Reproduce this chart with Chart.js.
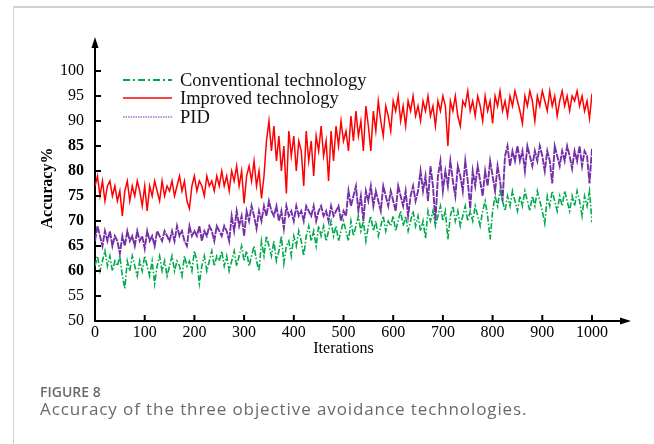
<!DOCTYPE html>
<html>
<head>
<meta charset="utf-8">
<script src="https://cdn.jsdelivr.net/npm/chart.js@4.4.0/dist/chart.umd.min.js"></script>
<style>
  body { margin: 0; background: #fff; }
  #wrap { position: relative; width: 654px; height: 444px; overflow: hidden; }
  #frame { position: absolute; left: 13px; top: 6px; width: 660px; height: 460px;
           border-left: 1px solid #d2d2d2; border-top: 2px solid #d2d2d2; }
  canvas { position: absolute; left: 0; top: 0; }
  .fig { position: absolute; left: 40px; top: 382px; font: 600 14px 'Open Sans', sans-serif; color: #6a6a6a; }
  .cap { position: absolute; left: 40px; top: 397px; font: 17px 'Open Sans', sans-serif; color: #6a6a6a; letter-spacing: 0.9px; }
</style>
</head>
<body>
<div id="wrap">
  <div id="frame"></div>
  <canvas id="accChart" width="654" height="444"></canvas>
  <div class="fig">FIGURE 8</div>
  <div class="cap">Accuracy of the three objective avoidance technologies.</div>
</div>
<script>
const ctx = document.getElementById('accChart');

// one sample every 5 iterations, 0..1000
const step = 5;
const iterations = Array.from({ length: 201 }, (_, i) => i * step);

const improved = [
  77, 79, 75, 78, 74, 77, 78, 75, 77, 74, 76,
  71, 76, 78, 74, 77, 75, 78, 76, 73, 77,
  72, 77, 75, 78, 76, 74, 78, 75, 77, 76,
  78, 75, 77, 79, 76, 78, 74, 72.5, 77, 79,
  76, 78, 77, 75, 79, 77, 78, 76, 79, 77,
  80, 77, 79, 76, 80, 78, 81, 77, 80, 73.5,
  79, 81, 78, 82, 77, 80, 74.5, 79, 86, 90,
  84, 89, 82, 87, 80, 85, 75.5, 88, 83, 87,
  80, 86, 84, 77, 88, 82, 86, 79, 87, 84,
  89, 83, 86, 78, 88, 82, 89, 85, 90, 86,
  88, 84, 91, 86, 92, 87, 90, 84, 93, 89,
  84, 92, 88, 94, 90, 87, 93, 91, 88, 94,
  92, 95, 90, 93, 89, 94, 92, 95, 91, 93,
  90, 94, 92, 95, 91, 93, 89, 94, 92, 95,
  93, 85, 94, 92, 95, 91, 89, 94, 93, 96,
  92, 94, 91, 95, 93, 90, 95, 92, 94, 89.5,
  95, 93, 96, 92, 94, 91, 95, 93, 96, 94,
  92, 89.5, 95, 93, 96, 94, 90, 95, 93, 96,
  94, 92, 96, 93, 95, 91, 94, 96, 93, 95,
  92, 95, 94, 96, 93, 95, 92, 94, 90.5, 95.5
];

const pid = [
  66, 69, 67, 65, 68, 66, 68, 65, 67, 66, 63.5,
  67, 65, 68, 66, 67, 65, 68, 66, 67, 64.5,
  68, 66, 67, 65, 68, 67, 66, 68, 67, 66,
  68, 66, 69, 67, 68, 66, 65, 69, 67, 68,
  67, 69, 66, 68, 67, 69, 68, 66, 69, 68,
  67, 69, 68, 66, 71, 68, 72, 69, 71, 67,
  72, 70, 73, 71, 68.5, 72, 70, 73, 71, 74,
  72, 71, 73, 70, 72, 68.5, 73, 71, 72, 70,
  73, 71, 72, 70, 73, 72, 71, 73, 70, 72,
  73, 71, 72, 70, 73, 71, 72, 73, 70, 72,
  71, 76, 73, 75, 77, 72, 75, 70, 76, 74,
  77, 73, 76, 74, 72, 77, 75, 73, 76, 74,
  72, 77, 75, 73, 76, 71, 75, 77, 74, 76,
  80, 76, 79, 74, 81, 77, 70, 79, 82, 76,
  80, 77, 82, 78, 75, 81, 79, 76, 82, 78,
  72.5, 80, 77, 81, 78, 75, 80, 77, 82, 79,
  76, 81, 78, 74, 83, 85, 81, 84, 82, 85,
  82, 84, 80, 85, 83, 81, 84, 82, 85, 83,
  80, 84, 82, 77.5, 85, 83, 81, 84, 82, 85,
  83, 80.5, 84, 82, 85, 81, 84, 83, 77.5, 84.5
];

const conventional = [
  61, 63, 60, 62, 64, 61, 63, 60, 62, 61, 63,
  59, 56.5, 62, 60, 63, 61, 59, 62, 60, 63,
  61, 59, 62, 57.5, 61, 63, 60, 62, 59, 61,
  63, 60, 62, 61, 59, 63, 61, 62, 60, 64,
  62, 57.5, 61, 63, 60, 62, 64, 61, 63, 62,
  64, 61, 63, 60, 62, 64, 61, 63, 65, 62,
  64, 61, 63, 65, 62, 60, 66, 63, 67, 65,
  63, 66, 62, 64, 67, 61.5, 65, 66, 63, 67,
  65, 68, 66, 63, 67, 69, 66, 68, 65, 69,
  67, 69, 66, 68, 70, 67, 69, 66, 68, 70,
  68, 66, 70, 67, 69, 71, 68, 70, 66, 69,
  71, 68, 70, 67, 69, 71, 68, 70, 69, 71,
  68, 70, 72, 69, 71, 68, 70, 72, 69, 71,
  68, 70, 66.5, 72, 70, 72, 69, 71, 73, 70,
  72, 66.3, 71, 73, 70, 72, 69, 71, 73, 70,
  72, 70, 73, 71, 69, 72, 74, 71, 66.3, 72,
  75, 73, 76, 74, 72, 75, 73, 76, 74, 72,
  75, 73, 76, 74, 72, 75, 73, 76, 74, 72,
  69.5, 75, 73, 76, 74, 72, 75, 73, 76, 74,
  72, 75, 73, 76, 74, 71, 75, 73, 76, 69.7
];

const seriesNames = ['Conventional technology', 'Improved technology', 'PID'];
const xTicks = [0, 1000, 100];   // min, max, step
const yTicks = [50, 100, 5];

const serif = "'Liberation Serif', 'Times New Roman', serif";

function pts(values) {
  return values.map((v, i) => ({ x: iterations[i], y: v }));
}

// axis arrows, inward tick marks and the legend inside the plot
const extras = {
  id: 'extras',
  afterDraw(chart) {
    const { ctx, chartArea: a, scales: { x, y } } = chart;
    ctx.save();
    ctx.strokeStyle = '#000';
    ctx.fillStyle = '#000';
    ctx.lineWidth = 2;
    ctx.beginPath();
    ctx.moveTo(a.left, a.top);
    ctx.lineTo(a.left, 46);
    ctx.moveTo(a.right, a.bottom);
    ctx.lineTo(622, a.bottom);
    x.ticks.forEach((t) => {
      if (t.value === 0) return;
      const px = x.getPixelForValue(t.value);
      ctx.moveTo(px, a.bottom);
      ctx.lineTo(px, a.bottom - 6);
    });
    y.ticks.forEach((t) => {
      if (t.value === 50) return;
      const py = y.getPixelForValue(t.value);
      ctx.moveTo(a.left, py);
      ctx.lineTo(a.left + 6, py);
    });
    ctx.stroke();

    ctx.beginPath();
    ctx.moveTo(a.left, 37);
    ctx.lineTo(a.left - 3.5, 48);
    ctx.lineTo(a.left + 3.5, 48);
    ctx.fill();
    ctx.beginPath();
    ctx.moveTo(631, a.bottom);
    ctx.lineTo(620, a.bottom - 3.5);
    ctx.lineTo(620, a.bottom + 3.5);
    ctx.fill();

    // legend
    const rows = [80, 98, 117];
    ctx.font = '18.5px ' + serif;
    ctx.textBaseline = 'middle';
    chart.data.datasets.forEach((ds, i) => {
      ctx.beginPath();
      ctx.strokeStyle = ds.borderColor;
      ctx.lineWidth = ds.legendWidth;
      ctx.setLineDash(ds.legendDash || []);
      ctx.moveTo(123, rows[i]);
      ctx.lineTo(172, rows[i]);
      ctx.stroke();
      ctx.setLineDash([]);
      ctx.fillStyle = '#111';
      ctx.fillText(ds.label, 180, rows[i] + 1);
    });
    ctx.restore();
  }
};

const data = {
  datasets: [
    {
      label: seriesNames[0],
      data: pts(conventional),
      borderColor: '#00a94c',
      borderWidth: 1.6,
      legendWidth: 2,
      borderDash: [6, 2, 1.5, 2],
      legendDash: [7, 3, 2, 3],
    },
    {
      label: seriesNames[1],
      data: pts(improved),
      borderColor: '#ff0000',
      borderWidth: 1.5,
      legendWidth: 1.4,
    },
    {
      label: seriesNames[2],
      data: pts(pid),
      borderColor: '#7630a6',
      borderWidth: 1.9,
      legendWidth: 1.2,
      borderDash: [7, 1],
      legendDash: [1.5, 1],
    },
  ],
};

const config = {
  type: 'line',
  data: data,
  options: {
    responsive: false,
    animation: false,
    layout: { padding: { top: 71, right: 62, bottom: 86, left: 0 } },
    elements: { point: { radius: 0 }, line: { tension: 0 } },
    plugins: { legend: { display: false }, tooltip: { enabled: false } },
    scales: {
      x: {
        type: 'linear',
        min: xTicks[0],
        max: xTicks[1],
        afterFit(s) { s.height = 37; },
        grid: { display: false, drawTicks: false },
        border: { display: true, color: '#000', width: 2 },
        ticks: {
          stepSize: xTicks[2],
          color: '#000',
          padding: 2,
          maxRotation: 0,
          callback: (v) => String(v),
          font: { family: serif, size: 16 },
        },
        title: {
          display: true,
          text: 'Iterations',
          color: '#000',
          padding: { top: 0, bottom: 0 },
          font: { family: serif, size: 16 },
        },
      },
      y: {
        min: yTicks[0],
        max: yTicks[1],
        afterFit(s) { s.width = 95; },
        grid: { display: false, drawTicks: false },
        border: { display: true, color: '#000', width: 2 },
        ticks: {
          stepSize: yTicks[2],
          color: '#000',
          padding: 11,
          font: (c) => ({
            family: serif,
            size: 16,
            weight: c.tick && c.tick.value >= 60 && c.tick.value <= 85 ? 'bold' : 'normal',
          }),
        },
        title: {
          display: true,
          text: '    Accuracy%',
          color: '#000',
          padding: { top: 38, bottom: 0 },
          font: { family: serif, size: 16, weight: 'bold' },
        },
      },
    },
  },
  plugins: [extras],
};

const accChart = new Chart(ctx, config);
</script>
</body>
</html>
